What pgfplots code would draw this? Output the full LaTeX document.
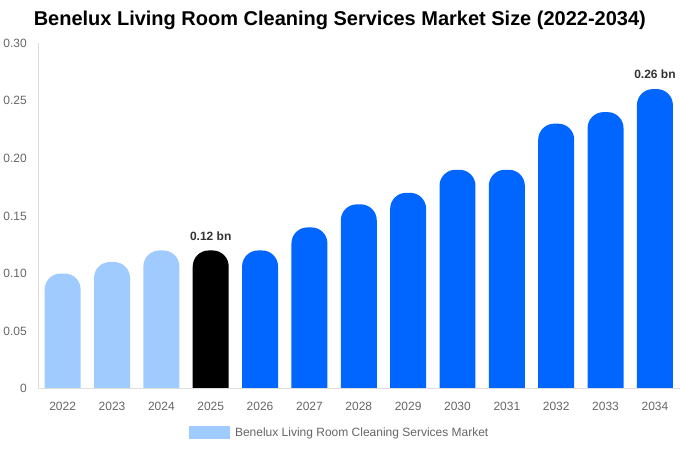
\documentclass[border=0pt]{standalone}
\usepackage{fontspec}
\setmainfont{Liberation Sans}
\usepackage{pgfplots}
\pgfplotsset{compat=1.18}
\usepackage{pgfplotstable}

\definecolor{lightbar}{HTML}{A0CBFF}
\definecolor{mainbar}{HTML}{0066FF}
\definecolor{axisgray}{HTML}{DDDDDD}
\definecolor{tickgray}{HTML}{666666}
\definecolor{labelgray}{HTML}{333333}

% bar with a rounded top, hanging down from the data point; the part below y=0 is clipped
\pgfdeclareplotmark{roundbar}{%
  \pgfpathmoveto{\pgfpoint{-18pt}{-500pt}}%
  \pgfpathlineto{\pgfpoint{-18pt}{-16pt}}%
  \pgfpatharc{180}{90}{16pt}%
  \pgfpathlineto{\pgfpoint{2pt}{0pt}}%
  \pgfpatharc{90}{0}{16pt}%
  \pgfpathlineto{\pgfpoint{18pt}{-500pt}}%
  \pgfpathclose
  \pgfusepathqfill}

% index, market size (bn)
\pgfplotstableread{
i v
0 0.10
1 0.11
2 0.12
}\histdata
\pgfplotstableread{
i v
3 0.12
}\basedata
\pgfplotstableread{
i v
4 0.12
5 0.14
6 0.16
7 0.17
8 0.19
9 0.19
10 0.23
11 0.24
12 0.26
}\forecastdata

\begin{document}
\begin{tikzpicture}
\begin{axis}[
    scale only axis,
    width=642pt, height=346pt,
    xmin=-0.5, xmax=12.5,
    ymin=0, ymax=0.30,
    xtick={0,...,12},
    xticklabels={2022,2023,2024,2025,2026,2027,2028,2029,2030,2031,2032,2033,2034},
    ytick={0,0.05,0.10,0.15,0.20,0.25,0.30},
    yticklabels={0,0.05,0.10,0.15,0.20,0.25,0.30},
    major tick length=0pt,
    axis lines*=left,
    axis line style={draw=axisgray, line width=0.8pt, -},
    tick label style={font=\fontsize{12}{14}\selectfont, text=tickgray, inner sep=0pt},
    xticklabel style={anchor=north, yshift=-13pt},
    yticklabel style={anchor=east, xshift=-11pt},
    legend style={at={(0.47,-0.127)}, anchor=center, draw=none,
        font=\fontsize{12}{14}\selectfont, text=tickgray,
        legend cell align=left},
    legend image code/.code={
        \fill[lightbar] (0pt,-6pt) rectangle (40pt,6pt);
        \path (44pt,0pt);},
    clip=true,
    clip mode=global,
    clip marker paths=true,
    axis on top,
]
\addlegendimage{lightbar}
\addlegendentry{Benelux Living Room Cleaning Services Market}

\addplot[only marks, mark=roundbar, color=lightbar, forget plot] table[x=i, y=v] {\histdata};
\addplot[only marks, mark=roundbar, color=black, forget plot] table[x=i, y=v] {\basedata};
\addplot[only marks, mark=roundbar, color=mainbar, forget plot] table[x=i, y=v] {\forecastdata};

\node[anchor=south, yshift=10pt, font=\bfseries\fontsize{12}{14}\selectfont, text=labelgray, inner sep=0pt] at (axis cs:3,0.12) {0.12 bn};
\node[anchor=south, yshift=10pt, font=\bfseries\fontsize{12}{14}\selectfont, text=labelgray, inner sep=0pt] at (axis cs:12,0.26) {0.26 bn};
\end{axis}
\node[font=\bfseries\fontsize{20}{24}\selectfont, inner sep=0pt] at ([xshift=302pt, yshift=369pt]current axis.south west) {Benelux Living Room Cleaning Services Market Size (2022-2034)};
\path ([xshift=-38pt, yshift=-61pt]current axis.south west) rectangle ++(680pt,450pt);
\end{tikzpicture}
\end{document}
